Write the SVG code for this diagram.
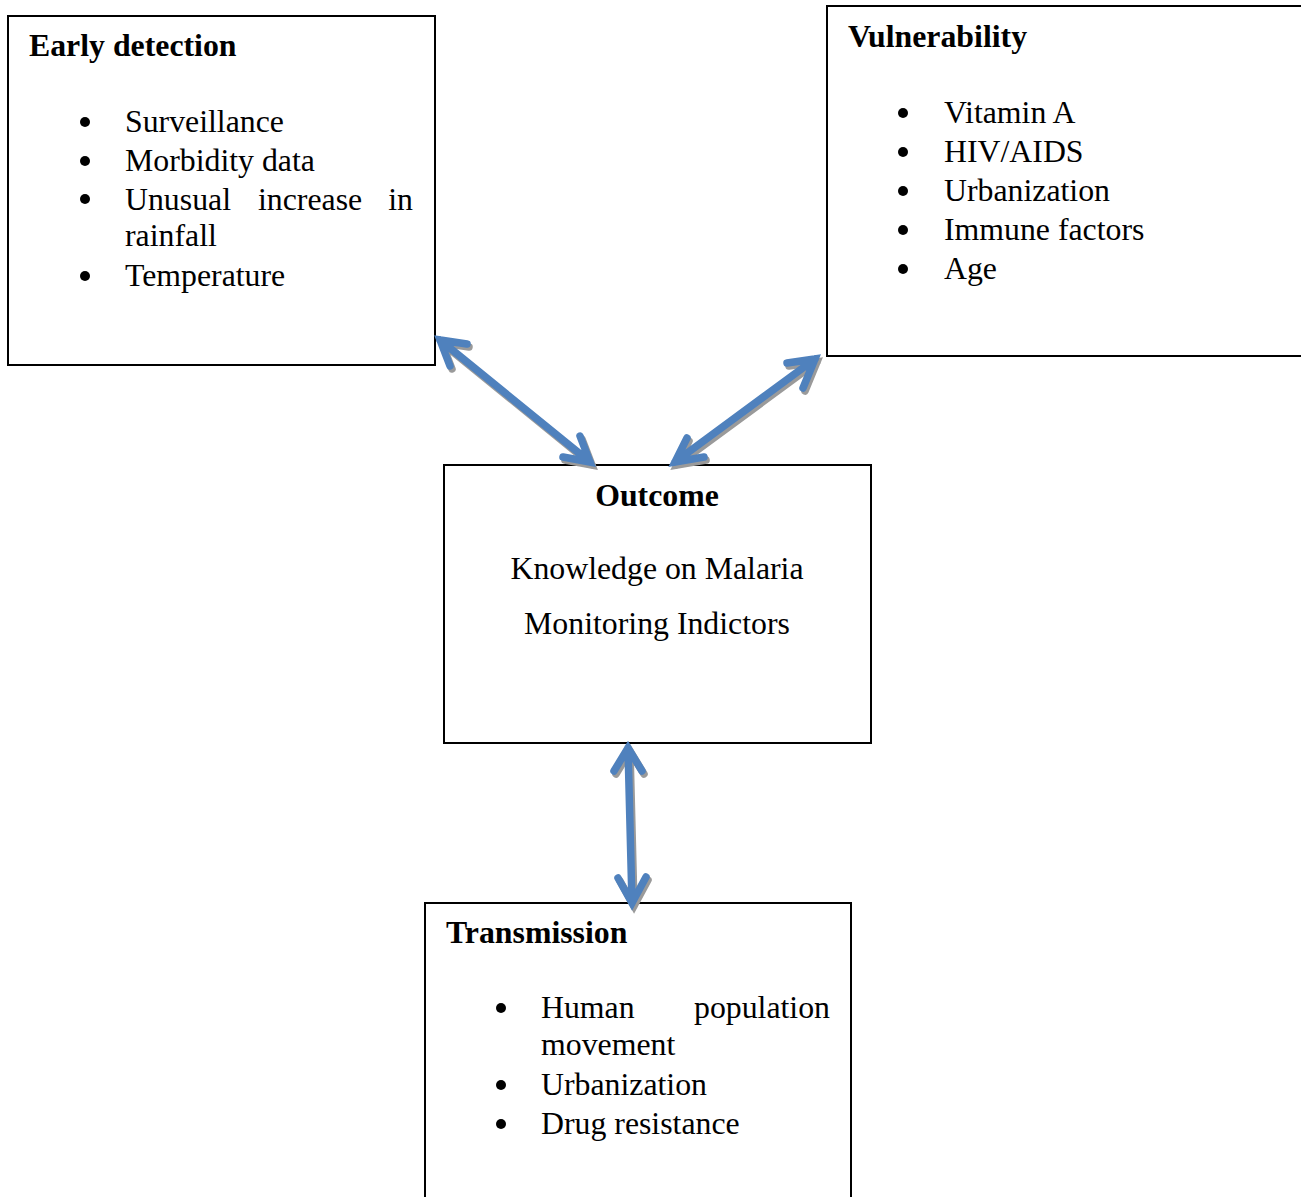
<svg xmlns="http://www.w3.org/2000/svg" xmlns:xlink="http://www.w3.org/1999/xlink" width="1301" height="1197" viewBox="0 0 1301 1197">
<style>
.box{fill:#fff;stroke:#000;stroke-width:2}
.t{font-family:"Liberation Serif","Times New Roman",serif;font-size:31.8px;fill:#000}
.b{font-weight:bold}
.dot{fill:#000}
.arr{fill:none;stroke:#4F81BD;stroke-width:7.5;stroke-linecap:round;stroke-linejoin:miter}
.sh{fill:none;stroke:#9a9a9a;stroke-width:7.5;stroke-linecap:round;stroke-linejoin:miter}
</style>
<rect width="1301" height="1197" fill="#fff"/>
<g id="early-detection">
<rect class="box" x="8" y="16" width="427" height="349"/>
<text class="t b" x="29" y="56">Early detection</text>
<circle class="dot" cx="85" cy="122" r="5"/>
<text class="t" x="125" y="132">Surveillance</text>
<circle class="dot" cx="85" cy="161" r="5"/>
<text class="t" x="125" y="171">Morbidity data</text>
<circle class="dot" cx="85" cy="199" r="5"/>
<text class="t" x="125" y="210">Unusual</text>
<text class="t" x="258" y="210">increase</text>
<text class="t" x="413" y="210" text-anchor="end">in</text>
<text class="t" x="125" y="246">rainfall</text>
<circle class="dot" cx="85" cy="276" r="5"/>
<text class="t" x="125" y="286">Temperature</text>
</g>
<g id="vulnerability">
<rect class="box" x="827" y="6" width="490" height="350"/>
<text class="t b" x="848" y="47">Vulnerability</text>
<circle class="dot" cx="903" cy="113" r="5"/>
<text class="t" x="944" y="123">Vitamin A</text>
<circle class="dot" cx="903" cy="152" r="5"/>
<text class="t" x="944" y="162">HIV/AIDS</text>
<circle class="dot" cx="903" cy="191" r="5"/>
<text class="t" x="944" y="201">Urbanization</text>
<circle class="dot" cx="903" cy="230" r="5"/>
<text class="t" x="944" y="240">Immune factors</text>
<circle class="dot" cx="903" cy="269" r="5"/>
<text class="t" x="944" y="279">Age</text>
</g>
<g id="outcome">
<rect class="box" x="444" y="465" width="427" height="278"/>
<text class="t b" x="657" y="506" text-anchor="middle">Outcome</text>
<text class="t" x="657" y="579" text-anchor="middle">Knowledge on Malaria</text>
<text class="t" x="657" y="634" text-anchor="middle">Monitoring Indictors</text>
</g>
<g id="transmission">
<rect class="box" x="425" y="903" width="426" height="310"/>
<text class="t b" x="446" y="943">Transmission</text>
<circle class="dot" cx="501" cy="1008" r="5"/>
<text class="t" x="541" y="1018">Human</text>
<text class="t" x="830" y="1018" text-anchor="end">population</text>
<text class="t" x="541" y="1055">movement</text>
<circle class="dot" cx="501" cy="1085" r="5"/>
<text class="t" x="541" y="1095">Urbanization</text>
<circle class="dot" cx="501" cy="1124" r="5"/>
<text class="t" x="541" y="1134">Drug resistance</text>
</g>
<g id="connectors">
<defs>
<path id="a1" d="M440,340 L590,462 M467,344 L440,340 L450,366 M563,457 L590,462 L580,436"/>
<path id="a2" d="M815,359 L675,462 M787,363 L815,359 L803,388 M687,438 L675,462 L704,457"/>
<path id="a3" d="M628,748 L632,903 M614,771 L628,748 L642,771 M618,878 L632,903 L646,877"/>
</defs>
<use xlink:href="#a1" class="sh" transform="translate(2,3)"/>
<use xlink:href="#a2" class="sh" transform="translate(2,3)"/>
<use xlink:href="#a3" class="sh" transform="translate(2,3)"/>
<use xlink:href="#a1" class="arr"/>
<use xlink:href="#a2" class="arr"/>
<use xlink:href="#a3" class="arr"/>
</g>
</svg>
